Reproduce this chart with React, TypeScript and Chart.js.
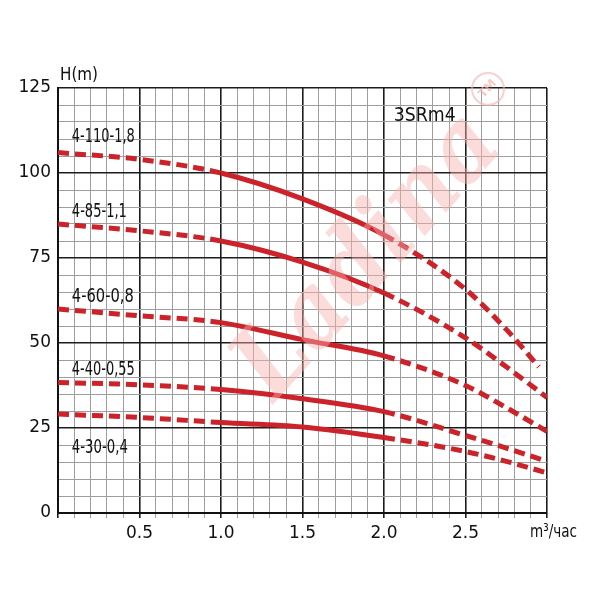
import { useEffect, useRef } from 'react';
import { Chart, registerables } from 'chart.js';

Chart.register(...registerables);

// flow, m3/h
const flow = [0, 0.5, 1.0, 1.5, 2.0, 2.5, 2.75, 3.0];
const flow110 = [0, 0.5, 1.0, 1.5, 2.0, 2.5, 2.75, 2.95];
// head, m
const head110 = [106, 104, 100, 92.4, 81.8, 65.8, 54, 43];
const head85 = [85, 83, 80, 73.8, 64.7, 51.5, 43, 34];
const head60 = [60, 58, 56, 51, 46.2, 37.5, 31, 24];
const head40 = [38.4, 37.7, 36.3, 33.6, 29.8, 22.8, 19.1, 15.2];
const head30 = [29.1, 28.1, 26.6, 25.3, 22.2, 18.1, 15.2, 11.8];
const modelNames = ['4-110-1,8', '4-85-1,1', '4-60-0,8', '4-40-0,55', '4-30-0,4'];
const xTickLabels = [0.5, 1.0, 1.5, 2.0, 2.5];
const yTickLabels = [0, 25, 50, 75, 100, 125];

const red = '#cc2229';
const font = '"DejaVu Sans", sans-serif';

const isOn = (list: number[], v: number) => list.some((t) => Math.abs(t - v) < 1e-6);
const isMajorX = (v: number) => Math.abs(v * 2 - Math.round(v * 2)) < 1e-6;
const isMajorY = (v: number) => Math.abs(v / 25 - Math.round(v / 25)) < 1e-6;

// dashed outside the working range 1..2 m3/h
const segDash = (ctx: any) =>
  ctx.p0.parsed.x >= 0.999 && ctx.p1.parsed.x <= 2.001 ? [] : [11, 6];

// the original uses a condensed face; squeeze text to a given width
function fitText(ctx: any, text: string, px: number, py: number, width: number) {
  const k = width / ctx.measureText(text).width;
  ctx.save();
  ctx.translate(px, py);
  ctx.scale(Math.min(k, 1), 1);
  ctx.fillText(text, 0, 0);
  ctx.restore();
}

const textPlugin = {
  id: 'pumpText',
  afterDatasetsDraw(chart: any) {
    const { ctx } = chart;
    // watermark
    ctx.save();
    ctx.translate(370, 258);
    ctx.rotate((-48 * Math.PI) / 180);
    ctx.font = 'italic bold 100px "DejaVu Serif", serif';
    const w = ctx.measureText('Ladina').width;
    ctx.scale(345 / w, 1);
    ctx.fillStyle = 'rgba(248, 175, 175, 0.45)';
    ctx.textAlign = 'center';
    ctx.textBaseline = 'middle';
    ctx.fillText('Ladina', 0, 0);
    ctx.restore();

    ctx.save();
    ctx.strokeStyle = 'rgba(248, 175, 175, 0.6)';
    ctx.lineWidth = 2;
    ctx.beginPath();
    ctx.arc(488, 89, 16, 0, Math.PI * 2);
    ctx.stroke();
    ctx.translate(488, 89);
    ctx.rotate((-48 * Math.PI) / 180);
    ctx.fillStyle = 'rgba(248, 175, 175, 0.7)';
    ctx.font = 'bold 12px ' + font;
    ctx.textAlign = 'center';
    ctx.textBaseline = 'middle';
    ctx.fillText('TM', 0, 0);
    ctx.restore();
  },
  afterDraw(chart: any) {
    const { ctx, chartArea, scales } = chart;
    const { x, y } = scales;
    ctx.save();
    ctx.fillStyle = '#111';
    ctx.font = '19px ' + font;
    ctx.textAlign = 'left';
    ctx.textBaseline = 'alphabetic';
    const ly = [109.2, 87.2, 62.1, 40.7, 17.6];
    const lw = [63, 55, 62, 63, 56];
    modelNames.forEach((name, i) => {
      fitText(ctx, name, x.getPixelForValue(0.085), y.getPixelForValue(ly[i]), lw[i]);
    });
    fitText(ctx, '3SRm4', x.getPixelForValue(2.06), y.getPixelForValue(115.2), 62);
    ctx.font = '18px ' + font;
    fitText(ctx, 'H(m)', chartArea.left + 2, chartArea.top - 8, 38);
    fitText(ctx, 'm³/час', chartArea.right - 17, chartArea.bottom + 24, 47);
    ctx.restore();
  },
};

export default function App() {
  const canvasRef = useRef<HTMLCanvasElement>(null);
  const chartRef = useRef<Chart | null>(null);

  useEffect(() => {
    if (!canvasRef.current) return;
    if (chartRef.current) chartRef.current.destroy();

    const series = [
      { x: flow110, y: head110 },
      { x: flow, y: head85 },
      { x: flow, y: head60 },
      { x: flow, y: head40 },
      { x: flow, y: head30 },
    ];

    const datasets = series.map((s, i) => ({
      label: modelNames[i],
      data: s.x.map((q, j) => ({ x: q, y: s.y[j] })),
      borderColor: red,
      borderWidth: 5,
      borderCapStyle: 'butt' as const,
      pointRadius: 0,
      fill: false,
      cubicInterpolationMode: 'monotone' as const,
      segment: { borderDash: segDash },
    }));

    const tickFont = { family: font, size: 17 };

    chartRef.current = new Chart(canvasRef.current, {
      type: 'line',
      data: { datasets },
      options: {
        animation: false,
        responsive: true,
        maintainAspectRatio: false,
        layout: { padding: { top: 88, right: 53, left: 0, bottom: 0 } },
        plugins: {
          legend: { display: false },
          tooltip: { enabled: false },
        },
        scales: {
          x: {
            type: 'linear',
            min: 0,
            max: 3,
            afterFit: (s: any) => {
              s.height = 87;
            },
            ticks: {
              stepSize: 0.1,
              autoSkip: false,
              maxRotation: 0,
              padding: 5,
              color: '#111',
              font: tickFont,
              callback: (v: any) => (isOn(xTickLabels, Number(v)) ? Number(v).toFixed(1) : ''),
            },
            grid: {
              color: (c: any) => (isMajorX(c.tick.value) ? '#1c1c1c' : '#9e9e9e'),
              lineWidth: (c: any) => (isMajorX(c.tick.value) ? 1.6 : 1),
              drawTicks: true,
              tickLength: 5,
            },
            border: { color: '#111', width: 2 },
          },
          y: {
            type: 'linear',
            min: 0,
            max: 125,
            afterFit: (s: any) => {
              s.width = 58;
            },
            ticks: {
              stepSize: 5,
              autoSkip: false,
              padding: 7,
              color: '#111',
              font: tickFont,
              callback: (v: any) => (isOn(yTickLabels, Number(v)) ? String(v) : ''),
            },
            grid: {
              color: (c: any) => (isMajorY(c.tick.value) ? '#1c1c1c' : '#9e9e9e'),
              lineWidth: (c: any) => (isMajorY(c.tick.value) ? 1.6 : 1),
              drawTicks: false,
            },
            border: { color: '#111', width: 2 },
          },
        },
      },
      plugins: [textPlugin],
    });

    return () => {
      if (chartRef.current) {
        chartRef.current.destroy();
        chartRef.current = null;
      }
    };
  }, []);

  return (
    <div style={{ position: 'absolute', left: 0, top: 0, width: 600, height: 600, background: '#fff' }}>
      <canvas ref={canvasRef} />
    </div>
  );
}
